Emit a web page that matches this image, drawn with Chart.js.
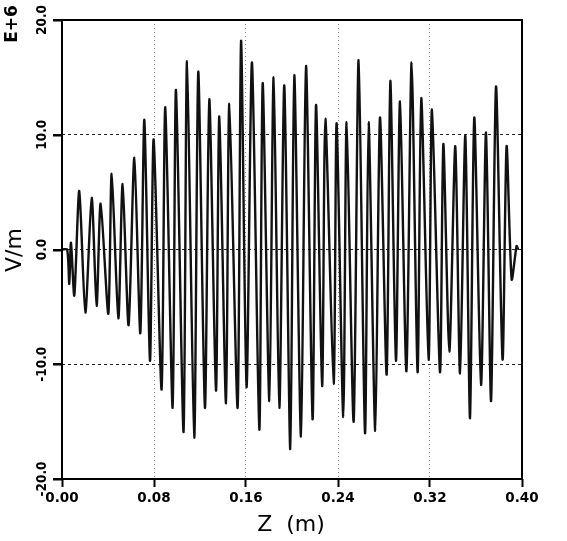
<!DOCTYPE html>
<html>
<head>
<meta charset="utf-8">
<script src="https://cdn.jsdelivr.net/npm/chart.js@4.4.0/dist/chart.umd.min.js"></script>
<style>
  html, body { margin: 0; padding: 0; background: #fff; }
  #grafico { display: block; }
</style>
</head>
<body>
<canvas id="grafico" width="567" height="541"></canvas>
<script>
// Posición z (m) de cada extremo de la onda
const zPos = [
    0.0000, 0.0045, 0.0063, 0.0078, 0.0107, 0.0150, 0.0203, 0.0258, 0.0301, 0.0336,
    0.0403, 0.0432, 0.0490, 0.0527, 0.0579, 0.0629, 0.0681, 0.0716, 0.0765, 0.0797,
    0.0866, 0.0898, 0.0962, 0.0991, 0.1057, 0.1087, 0.1150, 0.1185, 0.1243, 0.1281,
    0.1339, 0.1368, 0.1426, 0.1455, 0.1527, 0.1557, 0.1605, 0.1652, 0.1716, 0.1745,
    0.1803, 0.1840, 0.1890, 0.1933, 0.1985, 0.2020, 0.2078, 0.2122, 0.2179, 0.2209,
    0.2262, 0.2290, 0.2362, 0.2388, 0.2446, 0.2475, 0.2536, 0.2579, 0.2635, 0.2666,
    0.2724, 0.2765, 0.2823, 0.2855, 0.2904, 0.2939, 0.2995, 0.3040, 0.3092, 0.3124,
    0.3188, 0.3217, 0.3287, 0.3316, 0.3368, 0.3420, 0.3461, 0.3507, 0.3548, 0.3585,
    0.3644, 0.3687, 0.3731, 0.3774, 0.3831, 0.3866, 0.3910, 0.3953, 0.3966
];

// Campo eléctrico en unidades de 1E+6 V/m
const campo = [
    0.0, 0.0, -3.0, 0.6, -4.0, 5.1, -5.5, 4.5, -4.9, 4.0,
    -5.6, 6.6, -6.0, 5.7, -6.6, 8.0, -7.3, 11.3, -9.7, 9.6,
    -12.2, 12.4, -13.8, 13.9, -15.9, 16.4, -16.4, 15.5, -13.8, 13.1,
    -12.3, 11.6, -13.4, 12.7, -13.8, 18.2, -12.0, 16.3, -15.7, 14.5,
    -13.2, 15.0, -13.8, 14.3, -17.4, 15.2, -16.3, 16.0, -14.8, 12.6,
    -11.9, 11.4, -11.7, 11.0, -14.6, 11.1, -15.0, 16.5, -16.0, 11.1,
    -15.8, 11.5, -10.9, 14.7, -9.7, 12.9, -10.6, 16.3, -10.7, 13.2,
    -9.6, 12.2, -10.7, 9.2, -8.9, 9.0, -10.8, 9.9, -14.7, 11.5,
    -11.8, 10.2, -13.2, 14.2, -9.6, 9.0, -2.6, 0.3, 0.0
];

// Marcas de los ejes
const zTicks = [0.00, 0.08, 0.16, 0.24, 0.32, 0.40];
const zLabels = ['0.00', '0.08', '0.16', '0.24', '0.32', '0.40'];
const eTicks = [-20, -10, 0, 10, 20];
const eLabels = ['-20.0', '-10.0', '0.0', '10.0', '20.0'];

// Marco, marcas y etiquetas giradas del eje Y, títulos
const textosPlugin = {
    id: 'textos',
    afterDraw(chart) {
        const ctx = chart.ctx;
        const area = chart.chartArea;
        const escalaY = chart.scales.y;
        ctx.save();
        ctx.strokeStyle = '#000';
        ctx.lineWidth = 2;
        ctx.strokeRect(area.left, area.top, area.right - area.left, area.bottom - area.top);

        // marcas del eje Y hacia fuera
        ctx.lineWidth = 2.5;
        eTicks.forEach(v => {
            const py = Math.round(escalaY.getPixelForValue(v));
            ctx.fillRect(area.left - 9, py - 1, 9, 2.5);
        });

        ctx.fillStyle = '#000';
        ctx.textAlign = 'center';
        ctx.textBaseline = 'middle';
        ctx.font = 'bold 13.5px "DejaVu Sans Condensed", "DejaVu Sans"';
        eTicks.forEach((v, i) => {
            ctx.save();
            ctx.translate(42, escalaY.getPixelForValue(v));
            ctx.rotate(-Math.PI / 2);
            ctx.fillText(eLabels[i], 0, 0);
            ctx.restore();
        });

        ctx.font = 'bold 17px "DejaVu Sans"';
        ctx.save();
        ctx.translate(13, 24);
        ctx.rotate(-Math.PI / 2);
        ctx.fillText('E+6', 0, 0);
        ctx.restore();

        ctx.font = '22px "DejaVu Sans"';
        ctx.save();
        ctx.translate(15, 250);
        ctx.rotate(-Math.PI / 2);
        ctx.fillText('V/m', 0, 0);
        ctx.restore();

        ctx.font = '22px "DejaVu Sans"';
        ctx.fillText('Z  (m)', 291, 525);
        ctx.restore();
    }
};

function crearGrafico() {
    const ctx = document.getElementById('grafico').getContext('2d');
    new Chart(ctx, {
        type: 'line',
        data: {
            datasets: [{
                data: zPos.map((z, i) => ({ x: z, y: campo[i] })),
                borderColor: '#111',
                borderWidth: 2.4,
                pointRadius: 0,
                tension: 0.25
            }]
        },
        options: {
            responsive: false,
            animation: false,
            layout: { padding: { top: 20, right: 45, left: 0, bottom: 0 } },
            plugins: { legend: { display: false }, tooltip: { enabled: false } },
            scales: {
                x: {
                    type: 'linear',
                    min: 0,
                    max: 0.40,
                    afterBuildTicks: s => { s.ticks = zTicks.map(v => ({ value: v })); },
                    afterFit: s => { s.height = 62; },
                    border: { display: false, dash: [1, 3] },
                    grid: {
                        color: c => (c.index === 0 || c.index === zTicks.length - 1) ? 'rgba(0,0,0,0)' : '#888',
                        lineWidth: 1,
                        tickColor: '#000',
                        tickWidth: 2,
                        tickLength: 8,
                        tickBorderDash: []
                    },
                    ticks: {
                        color: '#000',
                        padding: 3,
                        maxRotation: 0,
                        font: { family: 'DejaVu Sans', size: 13.5, weight: 'bold' },
                        callback: (v, i) => zLabels[i]
                    }
                },
                y: {
                    min: -20,
                    max: 20,
                    afterBuildTicks: s => { s.ticks = eTicks.map(v => ({ value: v })); },
                    afterFit: s => { s.width = 62; },
                    border: { display: false, dash: [3, 3] },
                    grid: {
                        color: c => (c.index === 0 || c.index === eTicks.length - 1) ? 'rgba(0,0,0,0)' : '#222',
                        lineWidth: 1,
                        drawTicks: false
                    },
                    // las etiquetas se dibujan giradas en el plugin
                    ticks: { display: false }
                }
            }
        },
        plugins: [textosPlugin]
    });
}

crearGrafico();
</script>
</body>
</html>
